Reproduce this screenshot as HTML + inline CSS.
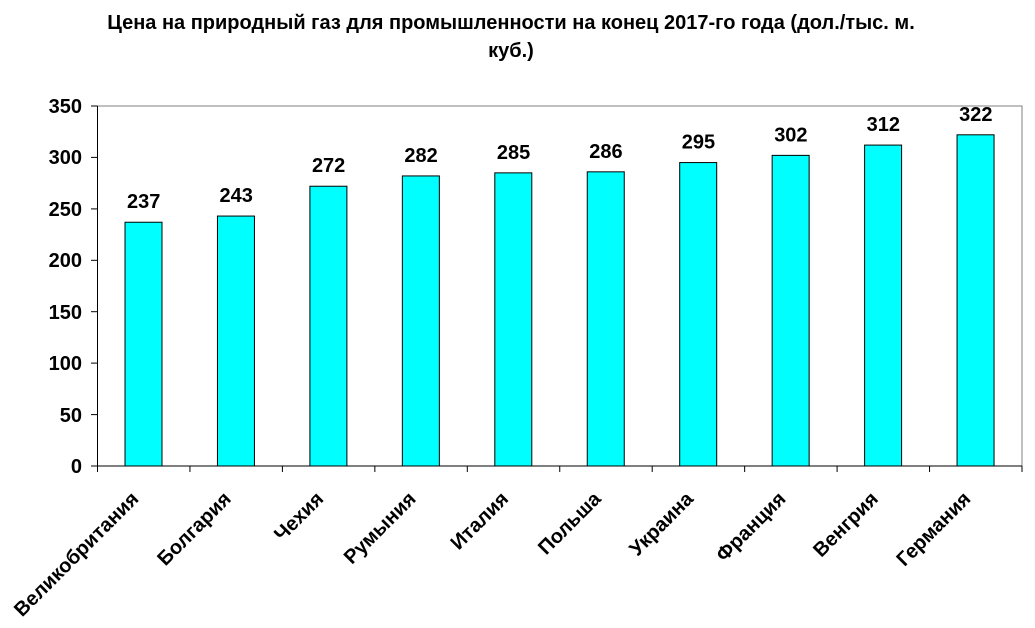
<!DOCTYPE html>
<html><head><meta charset="utf-8"><style>
html,body{margin:0;padding:0;background:#fff;}
svg{display:block;font-family:"Liberation Sans",Arial,sans-serif;font-weight:bold;}
</style></head><body>
<svg width="1035" height="628" viewBox="0 0 1035 628" xmlns="http://www.w3.org/2000/svg">
<text x="511" y="29" font-size="20" text-anchor="middle">Цена на природный газ для промышленности на конец 2017-го года (дол./тыс. м.</text>
<text x="511" y="57" font-size="20" text-anchor="middle">куб.)</text>
<rect x="97.5" y="106" width="924.5" height="360" fill="none" stroke="#808080" stroke-width="1"/>
<g font-size="20" text-anchor="end">
<text x="82" y="473">0</text>
<text x="82" y="422">50</text>
<text x="82" y="370">100</text>
<text x="82" y="319">150</text>
<text x="82" y="267">200</text>
<text x="82" y="216">250</text>
<text x="82" y="164">300</text>
<text x="82" y="113">350</text>
</g>
<g stroke="#000" stroke-width="1">
<line x1="91" y1="466" x2="97.5" y2="466"/><line x1="91" y1="414.6" x2="97.5" y2="414.6"/>
<line x1="91" y1="363.1" x2="97.5" y2="363.1"/><line x1="91" y1="311.7" x2="97.5" y2="311.7"/>
<line x1="91" y1="260.3" x2="97.5" y2="260.3"/><line x1="91" y1="208.9" x2="97.5" y2="208.9"/>
<line x1="91" y1="157.4" x2="97.5" y2="157.4"/><line x1="91" y1="106" x2="97.5" y2="106"/>
</g>
<g id="bars" stroke="#000" stroke-width="1" fill="#00FFFF"></g>
<line x1="97.5" y1="106" x2="97.5" y2="466" stroke="#000"/>
<line x1="97.5" y1="466" x2="1022" y2="466" stroke="#000"/>
<g id="xt" stroke="#000"></g>
<g id="lab" font-size="20" text-anchor="middle"></g>
<g id="cat" font-size="20" text-anchor="end"></g>
</svg>
<script>
var d=[["Великобритания",237],["Болгария",243],["Чехия",272],["Румыния",282],["Италия",285],["Польша",286],["Украина",295],["Франция",302],["Венгрия",312],["Германия",322]];
var ns="http://www.w3.org/2000/svg",w=92.45,s=360/350;
function el(p,t,a,txt){var e=document.createElementNS(ns,t);for(var k in a)e.setAttribute(k,a[k]);if(txt)e.textContent=txt;document.getElementById(p).appendChild(e);}
for(var i=0;i<=10;i++){var x=97.5+i*w;el("xt","line",{x1:x,y1:466,x2:x,y2:472});}
d.forEach(function(v,i){var x0=97.5+i*w,c=x0+w/2,top=466-v[1]*s;
el("bars","rect",{x:x0+27.5,y:top,width:37,height:466-top});
el("lab","text",{x:c,y:top-14},String(v[1]));
var ax=c-4,ay=500;
el("cat","text",{x:ax,y:ay,transform:"rotate(-45 "+ax+" "+ay+")"},v[0]);});
</script>
</body></html>
